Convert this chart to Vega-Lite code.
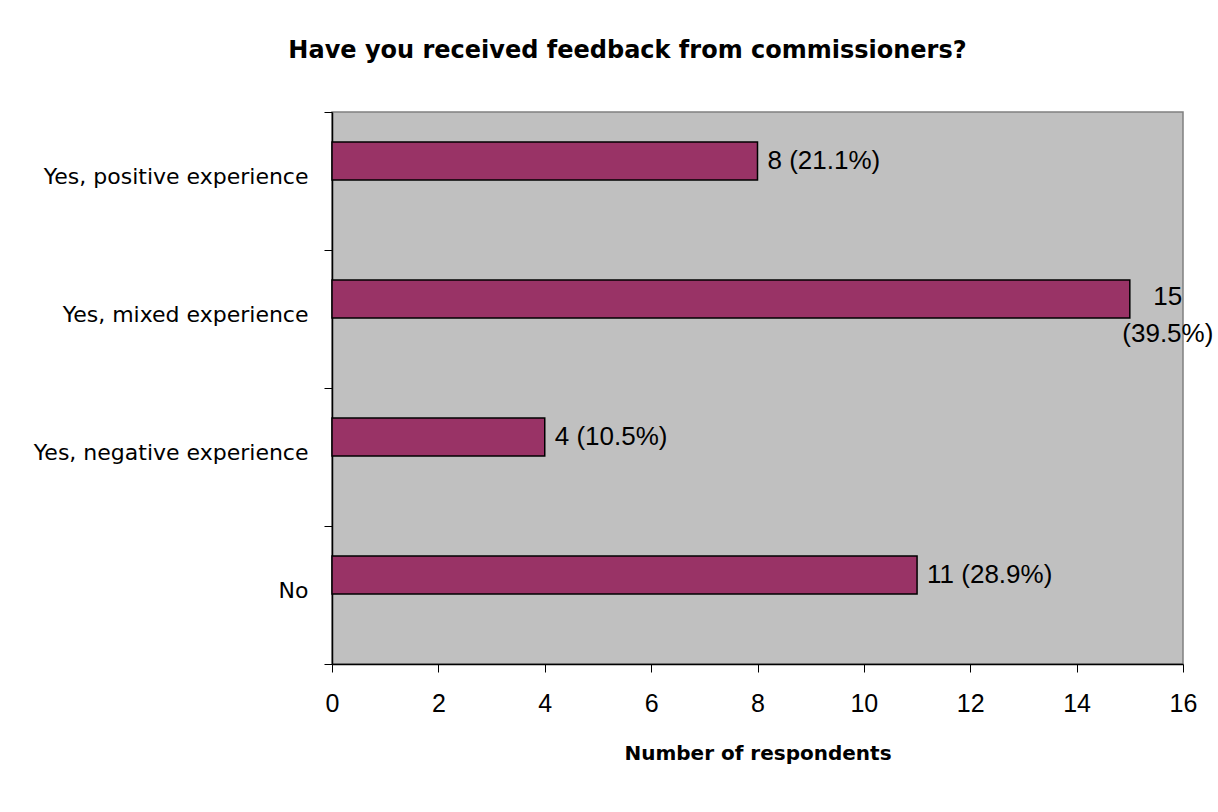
{
  "$schema": "https://vega.github.io/schema/vega-lite/v6.json",
  "width": 851,
  "height": 552,
  "autosize": "none",
  "padding": {"left": 332, "top": 112, "right": 35, "bottom": 148},
  "background": "white",
  "config": {"view": {"fill": "#C0C0C0", "stroke": "#808080", "strokeWidth": 1.5}},
  "title": {
    "text": "Have you received feedback from commissioners?",
    "font": "DejaVu Sans", "fontSize": 24, "fontWeight": "bold", "color": "black",
    "anchor": "middle", "frame": "group", "offset": 38, "dx": -130
  },
  "data": {"values": [
    {"response": "Yes, positive experience", "count": 8, "label": "8 (21.1%)"},
    {"response": "Yes, mixed experience", "count": 15, "label": ["15", "(39.5%)"]},
    {"response": "Yes, negative experience", "count": 4, "label": "4 (10.5%)"},
    {"response": "No", "count": 11, "label": "11 (28.9%)"}
  ]},
  "encoding": {
    "y": {
      "field": "response", "type": "nominal", "sort": null,
      "scale": {"paddingInner": 0, "paddingOuter": 0},
      "axis": {
        "title": null, "labelFont": "DejaVu Sans", "labelFontSize": 22, "labelColor": "black",
        "labelLimit": 400, "labelOffset": -5,
        "labelPadding": 16, "tickBand": "extent", "tickSize": 8, "tickColor": "black",
        "domainColor": "black", "domainWidth": 1.5, "grid": false
      }
    }
  },
  "layer": [
    {
      "mark": {"type": "bar", "color": "#993366", "stroke": "black", "strokeWidth": 1.5, "height": {"band": 0.275}, "yOffset": -20},
      "encoding": {
        "x": {
          "field": "count", "type": "quantitative", "scale": {"domain": [0, 16], "nice": false},
          "axis": {
            "title": "Number of respondents", "titleFont": "DejaVu Sans", "titleFontSize": 20,
            "titleFontWeight": "bold", "titleColor": "black", "titlePadding": 27,
            "labelFont": "Liberation Sans", "labelFontSize": 25, "labelColor": "black",
            "labelPadding": 19, "labelFlush": false, "tickSize": 8, "tickColor": "black",
            "domainColor": "black", "domainWidth": 1.5, "grid": false,
            "values": [0, 2, 4, 6, 8, 10, 12, 14, 16]
          }
        }
      }
    },
    {
      "transform": [{"filter": "!isArray(datum.label)"}],
      "mark": {"type": "text", "align": "left", "baseline": "middle", "dx": 10, "yOffset": -20, "font": "Liberation Sans", "fontSize": 26, "color": "black"},
      "encoding": {
        "x": {"field": "count", "type": "quantitative"},
        "text": {"field": "label"}
      }
    },
    {
      "transform": [{"filter": "isArray(datum.label)"}],
      "mark": {"type": "text", "align": "center", "baseline": "alphabetic", "dx": 38, "yOffset": -14, "lineHeight": 37, "font": "Liberation Sans", "fontSize": 26, "color": "black"},
      "encoding": {
        "x": {"field": "count", "type": "quantitative"},
        "text": {"field": "label"}
      }
    }
  ]
}
